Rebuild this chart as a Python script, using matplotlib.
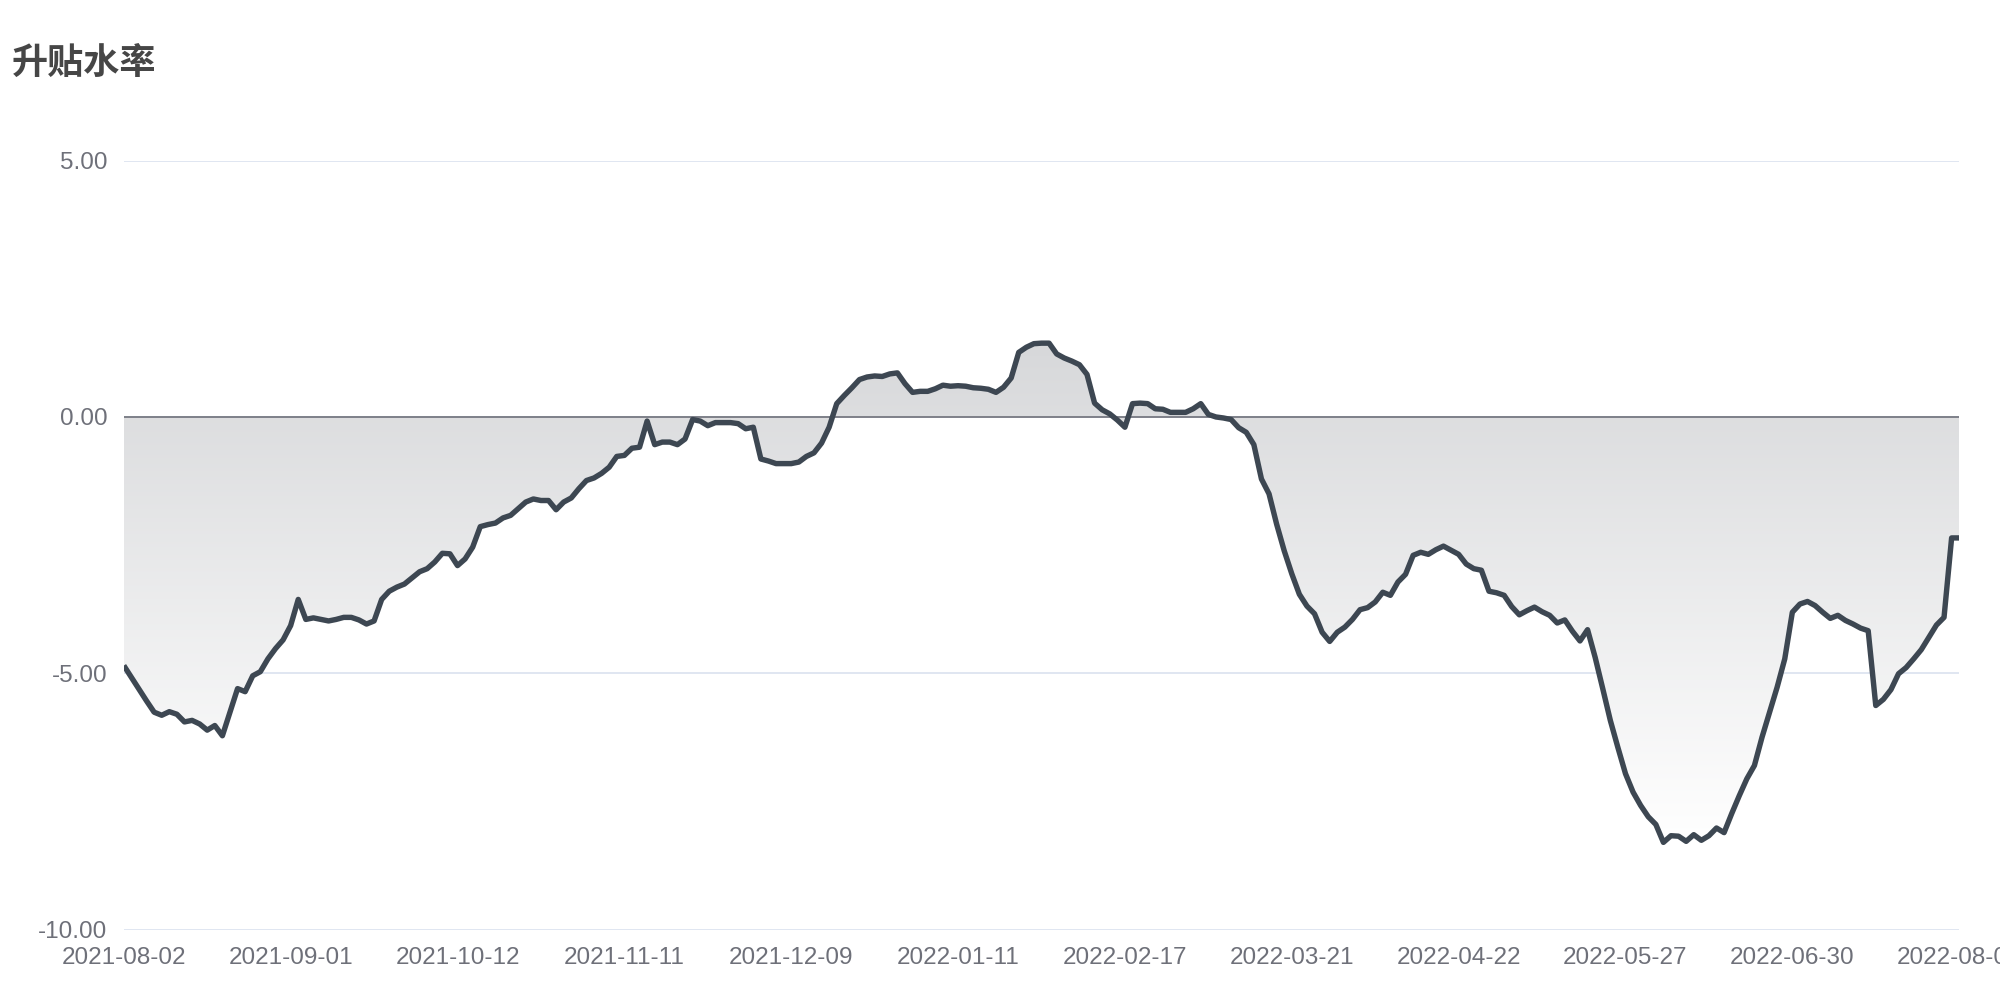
import matplotlib
matplotlib.use("Agg")
import matplotlib.pyplot as plt
import numpy as np
from matplotlib.path import Path
from matplotlib.patches import PathPatch

title = "升贴水率"

values = [
    -4.85, -5.08, -5.31, -5.54, -5.76, -5.82, -5.75, -5.80, -5.95, -5.92,
    -5.99, -6.11, -6.02, -6.22, -5.76, -5.30, -5.36, -5.05, -4.97, -4.72,
    -4.52, -4.35, -4.07, -3.56, -3.95, -3.92, -3.95, -3.98, -3.95, -3.91,
    -3.91, -3.96, -4.04, -3.98, -3.56, -3.40, -3.32, -3.26, -3.14, -3.02,
    -2.96, -2.83, -2.66, -2.67, -2.90, -2.77, -2.54, -2.14, -2.10, -2.07,
    -1.97, -1.92, -1.79, -1.66, -1.60, -1.63, -1.63, -1.81, -1.66, -1.58,
    -1.40, -1.24, -1.19, -1.10, -0.98, -0.77, -0.75, -0.61, -0.59, -0.08,
    -0.54, -0.49, -0.49, -0.54, -0.43, -0.05, -0.08, -0.17, -0.11, -0.11,
    -0.11, -0.13, -0.23, -0.20, -0.82, -0.86, -0.91, -0.91, -0.91, -0.88,
    -0.77, -0.70, -0.51, -0.20, 0.26, 0.42, 0.57, 0.73, 0.78, 0.80,
    0.79, 0.84, 0.86, 0.65, 0.48, 0.50, 0.50, 0.55, 0.62, 0.60,
    0.61, 0.60, 0.57, 0.56, 0.54, 0.48, 0.58, 0.76, 1.26, 1.36,
    1.43, 1.44, 1.44, 1.23, 1.15, 1.09, 1.02, 0.83, 0.27, 0.14,
    0.06, -0.06, -0.20, 0.26, 0.27, 0.26, 0.16, 0.15, 0.09, 0.09,
    0.09, 0.16, 0.26, 0.05, 0.00, -0.02, -0.05, -0.21, -0.30, -0.54,
    -1.21, -1.50, -2.09, -2.61, -3.06, -3.46, -3.69, -3.84, -4.20, -4.38,
    -4.20, -4.10, -3.95, -3.76, -3.72, -3.61, -3.42, -3.48, -3.22, -3.07,
    -2.70, -2.64, -2.68, -2.59, -2.52, -2.60, -2.68, -2.87, -2.96, -2.99,
    -3.40, -3.43, -3.48, -3.70, -3.86, -3.78, -3.71, -3.80, -3.87, -4.02,
    -3.96, -4.18, -4.37, -4.15, -4.69, -5.30, -5.92, -6.45, -6.96, -7.32,
    -7.58, -7.80, -7.95, -8.30, -8.17, -8.18, -8.28, -8.15, -8.26, -8.17,
    -8.02, -8.11, -7.74, -7.39, -7.06, -6.80, -6.25, -5.76, -5.27, -4.72,
    -3.81, -3.65, -3.60, -3.68, -3.81, -3.93, -3.87, -3.97, -4.04, -4.12,
    -4.17, -5.63, -5.51, -5.32, -5.01, -4.89, -4.72, -4.54, -4.30, -4.06,
    -3.91, -2.36, -2.36,
]

x_labels = [
    "2021-08-02", "2021-09-01", "2021-10-12", "2021-11-11", "2021-12-09",
    "2022-01-11", "2022-02-17", "2022-03-21", "2022-04-22", "2022-05-27",
    "2022-06-30", "2022-08-01",
]
label_step = 22
y_ticks = [-10, -5, 0, 5]

fig = plt.figure(figsize=(20, 10), dpi=100)
ax = fig.add_axes([0.0619, 0.0705, 0.9177, 0.7688])

v = np.array(values)
x = np.arange(len(v))

# gradient area between the line and zero
verts = np.concatenate([np.column_stack([x, v]),
                        np.column_stack([x[::-1], np.zeros(len(x))]),
                        [[x[0], v[0]]]])
clip = PathPatch(Path(verts, closed=True), transform=ax.transData,
                 facecolor="none", edgecolor="none")
ax.add_patch(clip)
c_top = np.array([0.843, 0.847, 0.855]).reshape(1, 1, 3)
t = np.linspace(0, 1, 512).reshape(-1, 1, 1)
img = np.repeat(c_top + (1 - c_top) * t, 4, axis=1)
im = ax.imshow(img, extent=[x[0] - 5, x[-1] + 5, v.min(), v.max()],
               aspect="auto", origin="upper", zorder=1,
               interpolation="nearest")
im.set_clip_path(clip)

ax.axhline(0, color="#6E7079", lw=1.2, zorder=2)
ax.plot(x, v, color="#3d4752", lw=3.9, zorder=3, solid_joinstyle="round",
        solid_capstyle="butt")

ax.set_xlim(x[0], x[-1])
ax.set_ylim(-10, 5)
ax.set_yticks(y_ticks)
ax.set_yticklabels([f"{t_:.2f}" for t_ in y_ticks])
ax.set_xticks(x[::label_step][:len(x_labels)])
ax.set_xticklabels(x_labels)
ax.yaxis.grid(True, color="#E0E6F1", lw=1.4, zorder=0)
ax.set_axisbelow(True)
for s in ax.spines.values():
    s.set_visible(False)
ax.tick_params(axis="both", length=0, labelsize=17.5, labelcolor="#6E7079")
ax.tick_params(axis="y", pad=12)
ax.tick_params(axis="x", pad=12.5)
for lab in ax.get_xticklabels() + ax.get_yticklabels():
    lab.set_fontfamily(["Liberation Sans", "DejaVu Sans"])

fig.text(0.006, 0.937, title, fontsize=26, fontweight="bold", color="#464646",
         family=["Noto Sans CJK SC", "DejaVu Sans"], va="center", ha="left")

fig.savefig("out.png", dpi=100)
